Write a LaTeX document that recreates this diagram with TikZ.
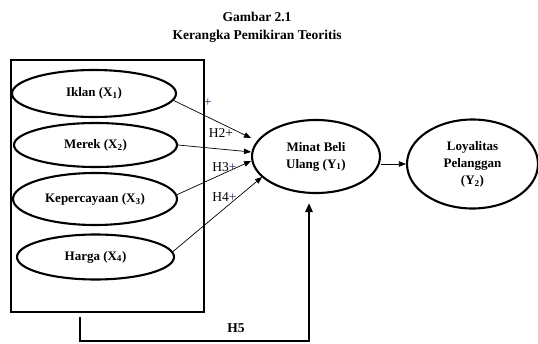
\documentclass[tikz,border=0pt]{standalone}
\usepackage{fontspec}
\setmainfont{Liberation Serif}
\usetikzlibrary{shapes.geometric,arrows.meta}
\definecolor{plusink}{RGB}{60,30,90}
\begin{document}
\begin{tikzpicture}[x=1pt,y=-1pt,
  var/.style={draw,ellipse,line width=2.1pt,inner sep=0pt,
    font=\fontsize{13}{17}\selectfont\bfseries,align=center},
  link/.style={line width=0.7pt,-{Triangle[length=7pt,width=5.5pt]}},
  hlabel/.style={font=\fontsize{13.5}{15}\selectfont,inner sep=0pt},
  plus/.style={text=plusink}]
\useasboundingbox (0,0) rectangle (538,343);

% heading
\node[font=\fontsize{13.5}{18}\selectfont\bfseries,align=center] (title) at (257,27)
  {Gambar 2.1\\Kerangka Pemikiran Teoritis};

% frame around the independent variables
\node[draw,line width=2pt,minimum width=193pt,minimum height=252pt,inner sep=0pt]
  (grp) at (107.5,186) {};

% independent variables
\node[var,minimum width=164pt,minimum height=47pt] (iklan) at (94,93.5) {Iklan (X\textsubscript{1})};
\node[var,minimum width=163pt,minimum height=44pt] (merek) at (95.5,145) {Merek (X\textsubscript{2})};
\node[var,minimum width=164pt,minimum height=52pt] (kep) at (95,199) {Kepercayaan (X\textsubscript{3})};
\node[var,minimum width=157pt,minimum height=45pt] (harga) at (95.5,257) {Harga (X\textsubscript{4})};

% dependent variables
\node[var,minimum width=128pt,minimum height=73pt] (minat) at (316,156.5) {Minat Beli\\Ulang (Y\textsubscript{1})};
\node[var,minimum width=131pt,minimum height=89pt] (loyal) at (472.5,164) {Loyalitas\\Pelanggan\\(Y\textsubscript{2})};

% arrow end points in front of Minat Beli Ulang
\coordinate (t1) at (251,138);
\coordinate (t2) at (251,152);
\coordinate (t3) at (251,161);
\coordinate (t4) at (262,177);

\draw[link] (iklan.-5) -- (t1);
\draw[link] (merek.east) -- (t2);
\draw[link] (kep.3) -- (t3);
\draw[link] (harga.4) -- (t4);
\draw[link] (loyal.west -| minat.east) -- (loyal.west);

% hypothesis labels
\node[hlabel,plus] (h1) at (208,103) {+};
\node[hlabel] (h2) at (221,133) {H2+};
\node[hlabel] (h3) at (224.5,167) {H3\textcolor{plusink}{+}};
\node[hlabel] (h4) at (224.5,197) {H4\textcolor{plusink}{+}};

% simultaneous effect H5
\coordinate (h5s) at (80,317);
\coordinate (h5e) at (309,203);
\draw[line width=2.2pt,-{Triangle[length=9pt,width=7pt]}]
  (h5s) -- (80,341) -| (h5e);
\node[font=\fontsize{13.5}{15}\selectfont\bfseries,inner sep=0pt] (h5) at (236,328) {H5};
\end{tikzpicture}
\end{document}
